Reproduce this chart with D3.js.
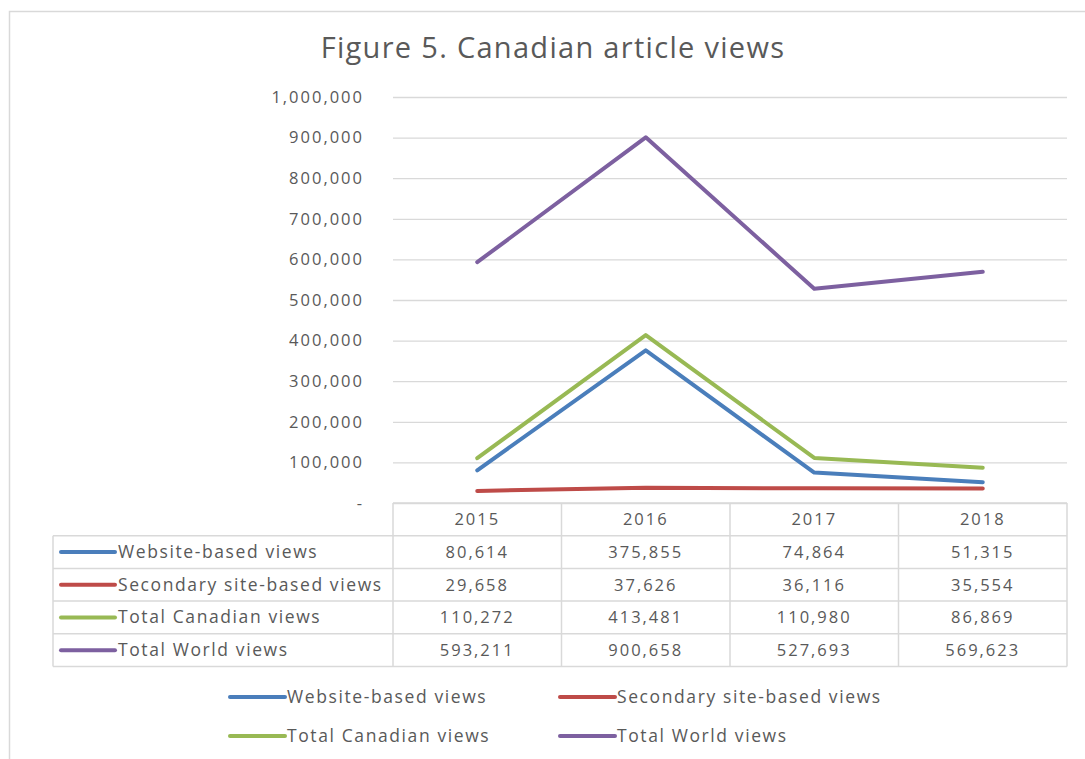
<!DOCTYPE html>
<html>
<head>
<meta charset="utf-8">
<script src="https://d3js.org/d3.v7.min.js"></script>
<style>
  body { margin: 0; background: #fff; }
  text { font-family: "Open Sans", sans-serif; fill: #595959; }
</style>
</head>
<body>
<div class="chart"></div>
<script>
var years = ["2015", "2016", "2017", "2018"];
var seriesNames = ["Website-based views", "Secondary site-based views", "Total Canadian views", "Total World views"];
var websiteViews = [80614, 375855, 74864, 51315];
var secondaryViews = [29658, 37626, 36116, 35554];
var totalCanadian = [110272, 413481, 110980, 86869];
var totalWorld = [593211, 900658, 527693, 569623];
var seriesColors = ["#4a7ebb", "#be4b48", "#98b954", "#7d60a0"];
var yTicks = [0, 100000, 200000, 300000, 400000, 500000, 600000, 700000, 800000, 900000, 1000000];

var series = [websiteViews, secondaryViews, totalCanadian, totalWorld];

function chart() {
    var W = 1085, H = 759;
    var margin = {top: 97, right: 18, bottom: 256, left: 393};
    var width = W - margin.left - margin.right;
    var height = H - margin.top - margin.bottom;

    var svg = d3.select(".chart").append("svg")
            .attr("width", W)
            .attr("height", H);

    // outer chart border
    svg.append("path")
            .attr("d", "M9.5," + H + "V11.5H" + W)
            .attr("fill", "none")
            .attr("stroke", "#d9d9d9")
            .attr("stroke-width", 1.5);

    svg.append("text")
            .attr("x", 553)
            .attr("y", 58)
            .attr("text-anchor", "middle")
            .style("font-size", "29px")
            .style("letter-spacing", "1.3px")
            .text("Figure 5. Canadian article views");

    var x = d3.scaleBand()
                .domain(years)
                .range([0, width]);

    var y = d3.scaleLinear()
                .domain([0, 1000000])
                .range([height, 0]);

    var g = svg.append("g")
            .attr("transform", "translate(" + margin.left + "," + margin.top + ")");

    var yAxis = d3.axisLeft(y)
                .tickValues(yTicks)
                .tickSize(-width)
                .tickPadding(29)
                .tickFormat(function (d) { return d === 0 ? "-" : d3.format(",")(d); });

    var ya = g.append("g")
            .attr("class", "y axis")
            .call(yAxis);
    ya.select(".domain").remove();
    ya.selectAll("line").attr("stroke", "#d9d9d9").attr("stroke-width", 1.3);
    ya.selectAll("text")
            .style("font-size", "16.5px")
            .style("letter-spacing", "2px")
            .attr("fill", "#595959")
            .attr("font-family", "Open Sans");

    var line = d3.line()
            .x(function (d, i) { return x(years[i]) + x.bandwidth() / 2; })
            .y(function (d) { return y(d); });

    g.selectAll(".series")
            .data(series)
            .enter().append("path")
            .attr("class", "series")
            .attr("d", line)
            .attr("fill", "none")
            .attr("stroke", function (d, i) { return seriesColors[i]; })
            .attr("stroke-width", 4)
            .attr("stroke-linejoin", "round")
            .attr("stroke-linecap", "round");

    // data table
    var rowH = 32.7;
    var tableLeft = 53 - margin.left;
    var tg = g.append("g").attr("transform", "translate(0," + height + ")");
    var gridColor = "#d9d9d9";

    // horizontal lines
    tg.append("line").attr("x1", 0).attr("x2", width).attr("y1", 0).attr("y2", 0)
            .attr("stroke", gridColor).attr("stroke-width", 1.5);
    for (var r = 1; r <= 5; r++) {
        tg.append("line").attr("x1", tableLeft).attr("x2", width)
                .attr("y1", r * rowH).attr("y2", r * rowH)
                .attr("stroke", gridColor).attr("stroke-width", 1.5);
    }
    // vertical lines
    tg.append("line").attr("x1", tableLeft).attr("x2", tableLeft)
            .attr("y1", rowH).attr("y2", 5 * rowH)
            .attr("stroke", gridColor).attr("stroke-width", 1.5);
    years.forEach(function (yr) {
        tg.append("line").attr("x1", x(yr)).attr("x2", x(yr))
                .attr("y1", 0).attr("y2", 5 * rowH)
                .attr("stroke", gridColor).attr("stroke-width", 1.5);
    });
    tg.append("line").attr("x1", width).attr("x2", width)
            .attr("y1", 0).attr("y2", 5 * rowH)
            .attr("stroke", gridColor).attr("stroke-width", 1.5);

    tg.selectAll(".yr")
            .data(years)
            .enter().append("text")
            .attr("x", function (d) { return x(d) + x.bandwidth() / 2; })
            .attr("y", rowH / 2 + 6)
            .attr("text-anchor", "middle")
            .style("font-size", "16.5px")
            .style("letter-spacing", "2px")
            .text(function (d) { return d; });

    series.forEach(function (vals, i) {
        var yy = (i + 1) * rowH + rowH / 2;
        tg.append("line")
                .attr("x1", tableLeft + 8).attr("x2", tableLeft + 62)
                .attr("y1", yy).attr("y2", yy)
                .attr("stroke", seriesColors[i]).attr("stroke-width", 4)
                .attr("stroke-linecap", "round");
        tg.append("text")
                .attr("x", tableLeft + 65)
                .attr("y", yy + 6)
                .style("font-size", "17.5px")
                .style("letter-spacing", "1.6px")
                .text(seriesNames[i]);
        tg.selectAll(".v" + i)
                .data(vals)
                .enter().append("text")
                .attr("x", function (d, j) { return x(years[j]) + x.bandwidth() / 2; })
                .attr("y", yy + 6)
                .attr("text-anchor", "middle")
                .style("font-size", "16.5px")
                .style("letter-spacing", "2px")
                .text(function (d) { return d3.format(",")(d); });
    });

    // legend
    var legendPos = [[230, 697], [560, 697], [230, 736], [560, 736]];
    var legend = svg.selectAll(".legend")
            .data(seriesNames)
            .enter().append("g")
            .attr("class", "legend")
            .attr("transform", function (d, i) { return "translate(" + legendPos[i][0] + "," + legendPos[i][1] + ")"; });
    legend.append("line")
            .attr("x1", 0).attr("x2", 55).attr("y1", 0).attr("y2", 0)
            .attr("stroke", function (d, i) { return seriesColors[i]; })
            .attr("stroke-width", 4)
            .attr("stroke-linecap", "round");
    legend.append("text")
            .attr("x", 57)
            .attr("y", 6)
            .style("font-size", "17.5px")
            .style("letter-spacing", "1.6px")
            .text(function (d) { return d; });
}

chart();
</script>
</body>
</html>
